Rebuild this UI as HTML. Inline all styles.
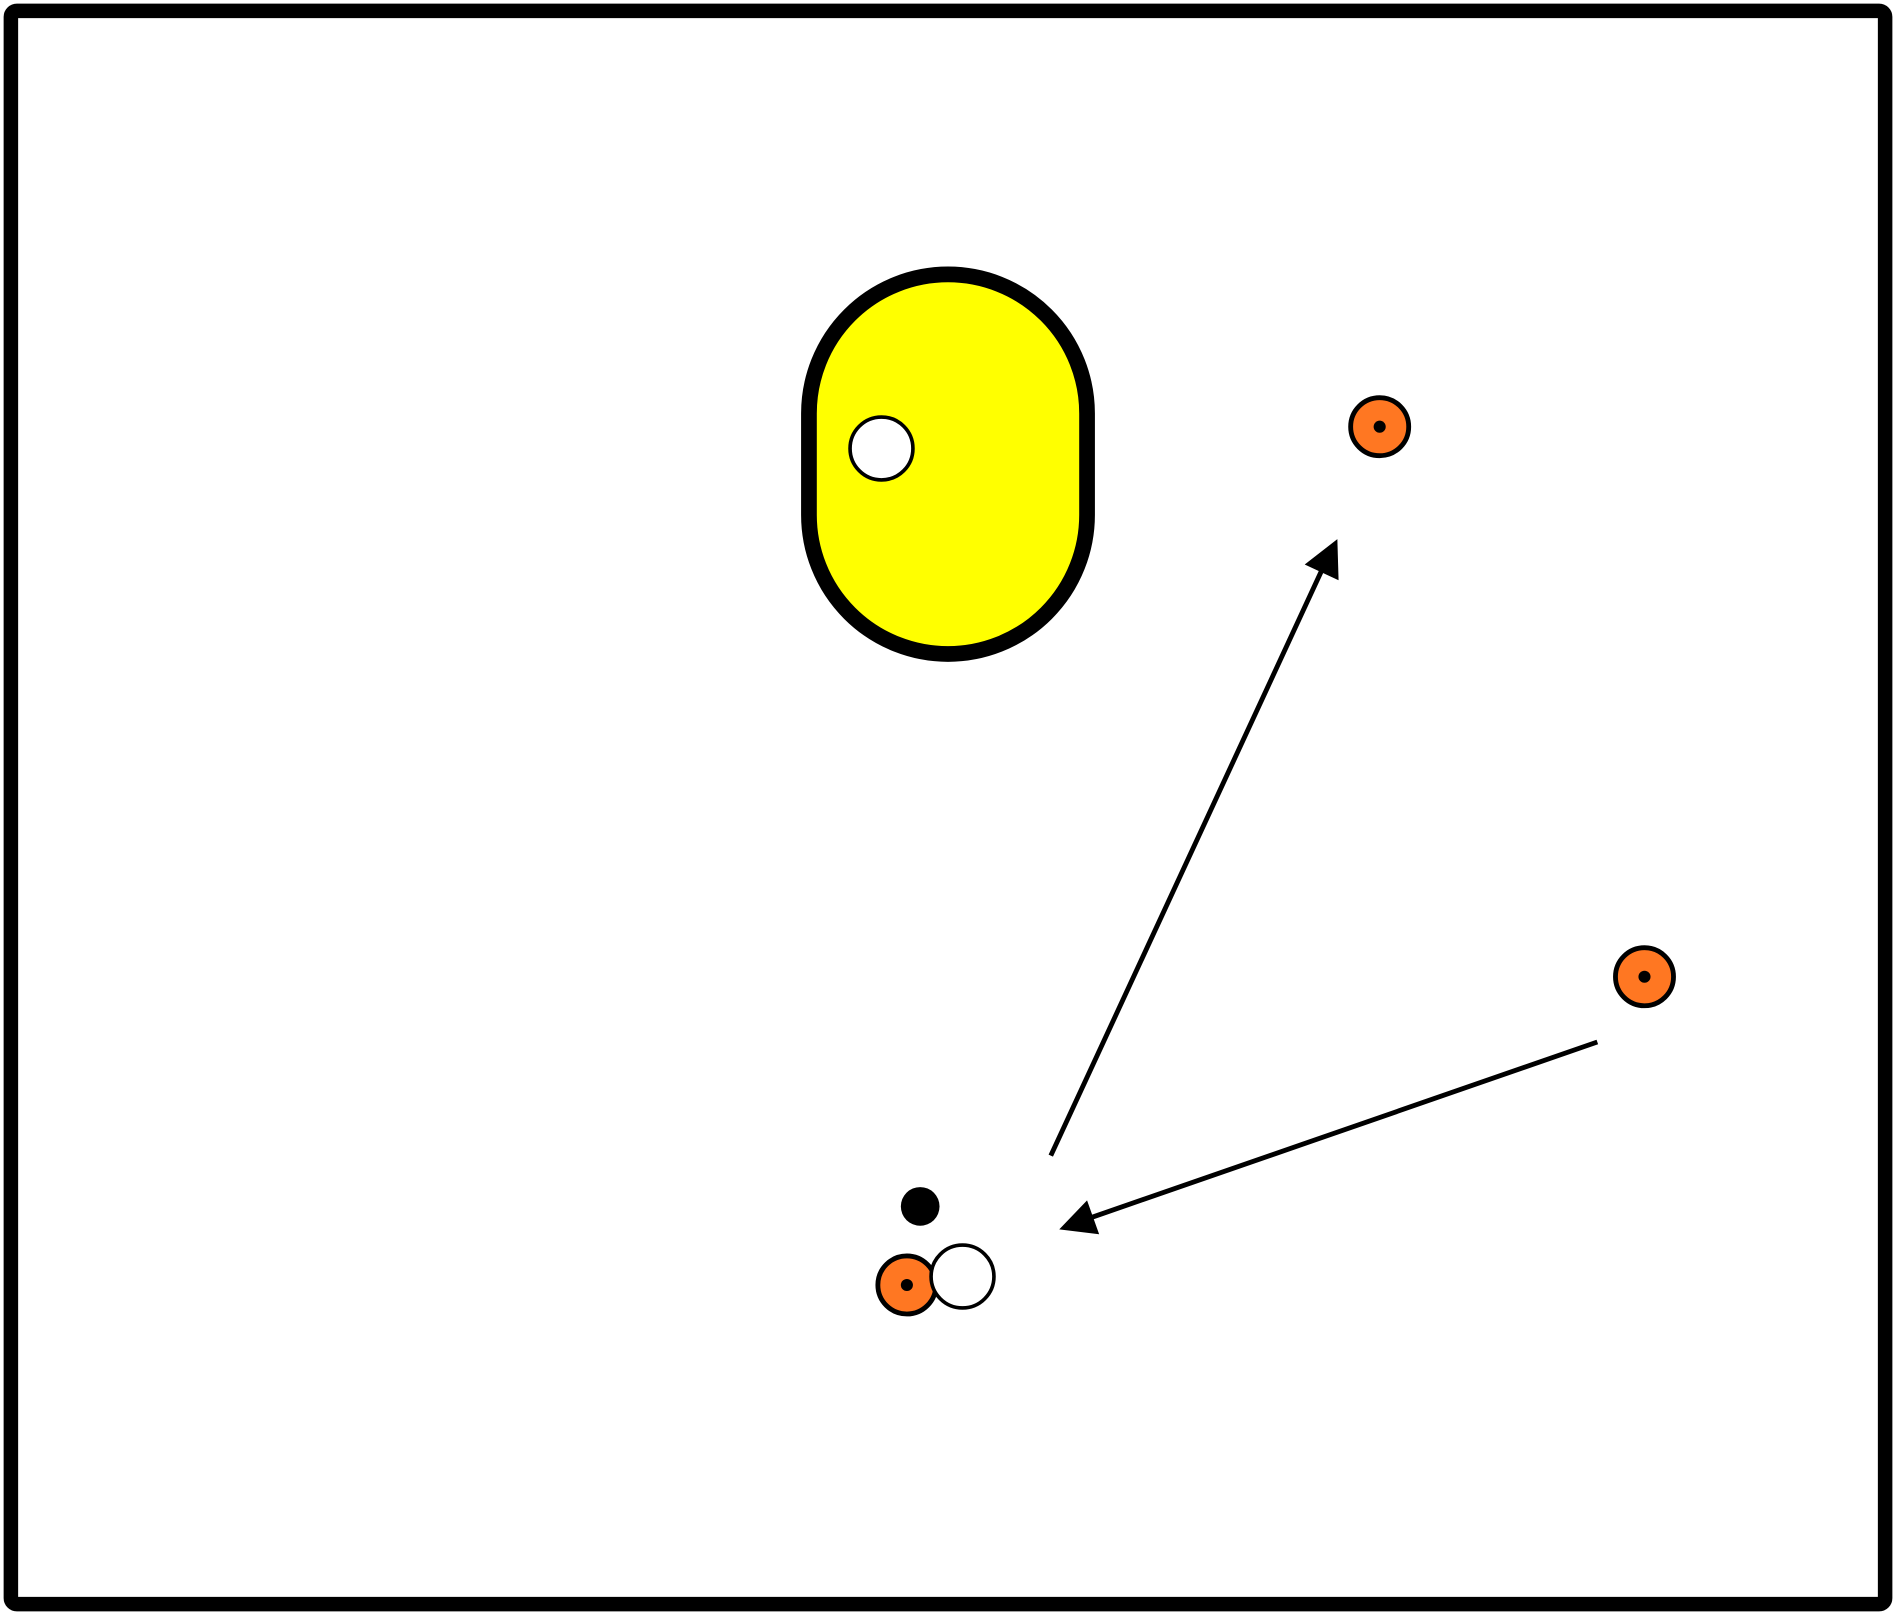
<!DOCTYPE html>
<html><head><meta charset="utf-8"><style>
html,body{margin:0;padding:0;background:#fff;}
svg{display:block;}
</style></head><body>
<svg width="1896" height="1615" viewBox="0 0 1568 1336" preserveAspectRatio="none" xmlns="http://www.w3.org/2000/svg">
<rect x="0" y="0" width="1568" height="1336" fill="#fff"/>
<rect x="9" y="9" width="1550" height="1318" rx="5" fill="none" stroke="#000" stroke-width="12"/>
<path d="M669,342 A115,115 0 0 1 899,342 L899,426 A115,115 0 0 1 669,426 Z" fill="#ffff00" stroke="#000" stroke-width="13"/>
<circle cx="729" cy="371" r="26" fill="#fff" stroke="#000" stroke-width="3"/>
<g stroke="#000" stroke-width="4" fill="#ff7722">
<circle cx="1141" cy="353" r="24"/>
<circle cx="1360" cy="808" r="24"/>
<circle cx="750" cy="1063" r="24"/>
</g>
<g fill="#000">
<circle cx="1141" cy="353" r="5"/>
<circle cx="1360" cy="808" r="5"/>
<circle cx="750" cy="1063" r="5"/>
<circle cx="761" cy="998" r="16"/>
</g>
<circle cx="796" cy="1056" r="26" fill="#fff" stroke="#000" stroke-width="3"/>
<line x1="869" y1="956" x2="1093" y2="472" stroke="#000" stroke-width="4"/>
<polygon points="1106,446 1107,480 1079,467" fill="#000"/>
<line x1="1321" y1="862" x2="903" y2="1007" stroke="#000" stroke-width="4"/>
<polygon points="876,1017 909,1021 899,993" fill="#000"/>
</svg>
</body></html>
